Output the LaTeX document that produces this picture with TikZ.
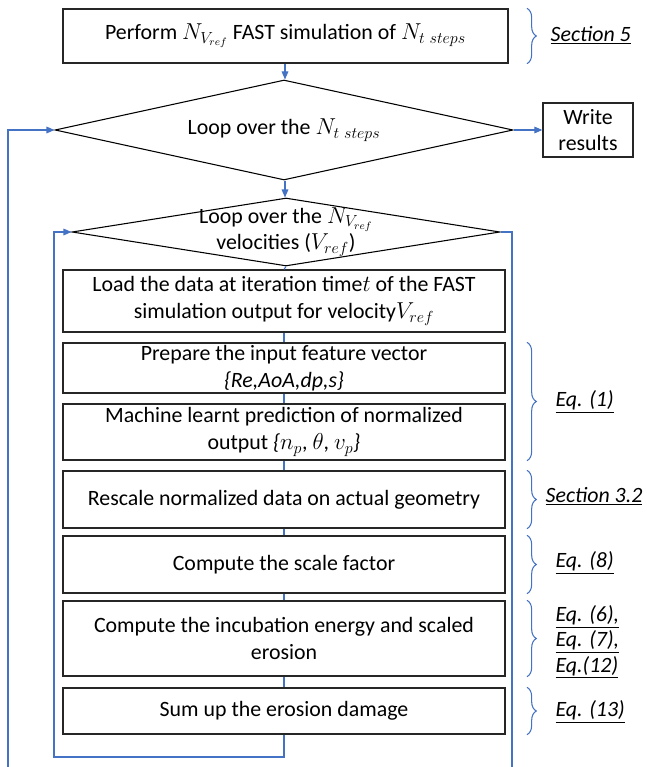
\documentclass[tikz,border=0pt]{standalone}
\usepackage{fontspec}
\setmainfont{Carlito}
\usepackage{tikz}
\usetikzlibrary{shapes.geometric,arrows.meta,decorations.pathreplacing,calc}
\definecolor{linkblue}{HTML}{4472C4}
\tikzset{
  stepbox/.style={rectangle, draw=black!85, line width=1pt, fill=white, align=center, inner sep=0pt, minimum width=331.5pt, font=\fontsize{16.4}{20}\selectfont},
  loopdec/.style={diamond, draw=black, line width=0.8pt, fill=white, inner sep=0pt},
  looptext/.style={align=center, font=\fontsize{16.4}{20}\selectfont},
  flow/.style={draw=linkblue, line width=0.8pt, -{Triangle[length=6pt,width=5pt]}},
  link/.style={draw=linkblue, line width=0.8pt},
  brc/.style={draw=linkblue, line width=0.8pt, decorate, decoration={brace, amplitude=7pt}},
  ref/.style={anchor=west, align=left, font=\fontsize{16.4}{19}\selectfont\itshape},
}

\begin{document}
\begin{tikzpicture}[x=0.75pt, y=-0.75pt]
  \useasboundingbox (0,0) rectangle (646,767);
  % start and outer loop
  \node[stepbox, minimum width=333.75pt, minimum height=40.5pt] (fast) at (285.5,36) {Perform $N_{V_{ref}}$ FAST simulation of $N_{t\ steps}$};
  \node[loopdec, minimum width=343.5pt, minimum height=75pt, label={[looptext]center:Loop over the $N_{t\ steps}$}] (tloop) at (284,130) {};
  \node[stepbox, minimum width=67.5pt, minimum height=40.5pt] (write) at (588,130) {Write\\results};
  % inner loop
  \node[loopdec, minimum width=321pt, minimum height=51pt, label={[looptext]center:Loop over the $N_{V_{ref}}$\\velocities ($V_{ref}$)}] (vloop) at (286,232) {};
  \node[stepbox, minimum height=46.5pt] (load) at (284,301) {Load the data at iteration time$t$ of the FAST\\simulation output for velocity$V_{ref}$};
  \node[stepbox, minimum height=37.5pt] (prep) at (284,368) {Prepare the input feature vector\\\textit{\{Re,AoA,dp,s\}}};
  \node[stepbox, minimum height=42pt] (ml) at (284,432) {Machine learnt prediction of normalized\\output \textit{\{}$n_p$, $\theta$, $v_p$\textit{\}}};
  \node[stepbox, minimum height=42.75pt] (resc) at (284,499.5) {Rescale normalized data on actual geometry};
  \node[stepbox, minimum height=42.75pt] (scale) at (284,564.5) {Compute the scale factor};
  \node[stepbox, minimum height=56.25pt] (incub) at (284,638.5) {Compute the incubation energy and scaled\\erosion};
  \node[stepbox, minimum height=34.5pt] (sum) at (284,711) {Sum up the erosion damage};
  % free ends of the loop lines
  \coordinate (ob) at (8,767);
  \coordinate (ib) at (54,757);
  \coordinate (rb) at (512,767);
  \coordinate (bx) at (527,0);
  % connectors
  \draw[flow] (fast.south -| 285,0) -- (tloop.north -| 285,0);
  \draw[flow] (tloop.south -| 285,0) -- (vloop.north -| 285,0);
  \draw[flow] (tloop.east) -- (write.west);
  \draw[flow] (ob) |- (tloop.west);
  \draw[flow] (sum.south) |- (ib) |- (vloop.west);
  \draw[link] (vloop.east) -| (rb);
  \foreach \a/\b in {vloop/load,load/prep,prep/ml,ml/resc,resc/scale,scale/incub,incub/sum}
    \draw[link] (\a.south) -- (\b.north);
  % references
  \draw[brc] (bx |- fast.north) -- (bx |- fast.south);
  \draw[brc] (bx |- prep.north) -- (bx |- ml.south);
  \draw[brc] (bx |- resc.north) -- (bx |- resc.south);
  \draw[brc] (bx |- scale.north) -- (bx |- scale.south);
  \draw[brc] (bx |- incub.north) -- (bx |- incub.south);
  \draw[brc] (bx |- sum.north) -- (bx |- sum.south);
  \node[ref] (r1) at (546,35) {\underline{Section 5}};
  \node[ref] (r2) at (551,402) {\underline{Eq. (1)}};
  \node[ref] (r3) at (541,496) {\underline{Section 3.2}};
  \node[ref] (r4) at (551,563) {\underline{Eq. (8)}};
  \node[ref] (r5) at (551,642) {\underline{Eq. (6),}\\\underline{Eq. (7),}\\\underline{Eq.(12)}};
  \node[ref] (r6) at (551,712) {\underline{Eq. (13)}};
\end{tikzpicture}
\end{document}
